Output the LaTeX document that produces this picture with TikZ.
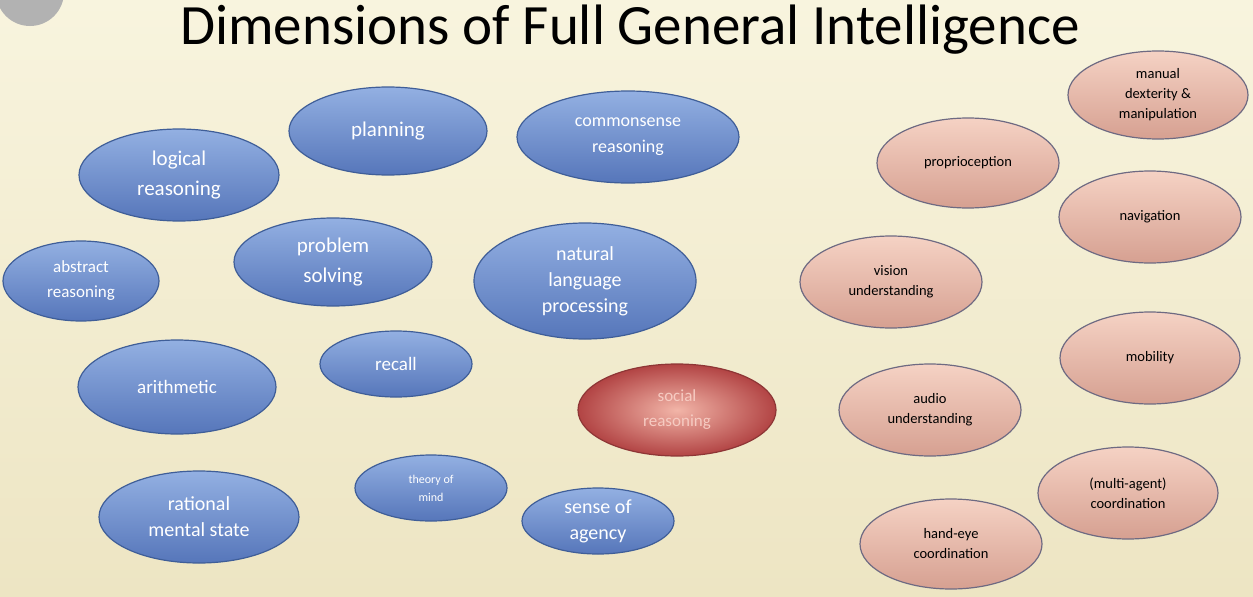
\documentclass[tikz,border=0pt]{standalone}
\usepackage{fontspec}
\setmainfont{Carlito}
\usetikzlibrary{shapes.geometric}
\definecolor{bgtop}{HTML}{F8F4DE}
\definecolor{bgbot}{HTML}{EDE5C3}
\definecolor{btop}{HTML}{93B0E2}
\definecolor{bbot}{HTML}{5676BA}
\definecolor{bline}{HTML}{3F5E98}
\definecolor{ptop}{HTML}{F5D2C4}
\definecolor{pbot}{HTML}{D6A091}
\definecolor{pline}{HTML}{6E6A82}
\definecolor{rin}{HTML}{F2B5A8}
\definecolor{rout}{HTML}{B24444}
\tikzset{
  x=1pt,y=-1pt,
  blue/.style={ellipse,draw=bline,line width=1.2pt,top color=btop,bottom color=bbot,
    text=white,align=center,inner sep=0pt,font=\fontsize{21}{30}\selectfont},
  bsmall/.style={blue,font=\fontsize{17}{25}\selectfont},
  pink/.style={ellipse,draw=pline,line width=1.2pt,top color=ptop,bottom color=pbot,
    text=black,align=center,inner sep=0pt,font=\fontsize{14.5}{20}\selectfont},
}
\begin{document}
\begin{tikzpicture}
\useasboundingbox (0,0) rectangle (1253,597);
\shade[top color=bgtop,bottom color=bgbot] (0,0) rectangle (1253,597);
\fill[gray!60] (30,-8) circle (34);
\node (title) at (630,30) {\fontsize{57}{60}\selectfont Dimensions of Full General Intelligence};
\node[blue,minimum width=198,minimum height=88] (plan) at (388,131) {planning};
\node[bsmall,font=\fontsize{18}{26}\selectfont,minimum width=222,minimum height=92] (common) at (628,137) {commonsense\\reasoning};
\node[blue,minimum width=200,minimum height=92] (logic) at (179,175) {logical\\reasoning};
\node[bsmall,minimum width=156,minimum height=80] (abstract) at (81,281) {abstract\\reasoning};
\node[blue,minimum width=198,minimum height=88] (prob) at (333,262) {problem\\solving};
\node[blue,font=\fontsize{20}{26}\selectfont,minimum width=222,minimum height=116] (nlp) at (585,281) {natural\\language\\processing};
\node[blue,font=\fontsize{19}{22}\selectfont,minimum width=198,minimum height=94] (arith) at (177,387) {arithmetic};
\node[blue,font=\fontsize{19}{22}\selectfont,minimum width=152,minimum height=66] (recall) at (396,364) {recall};
\node[ellipse,line width=1.2pt,draw=rout!80!black,inner color=rin,outer color=rout,text=rin!70!white,align=center,inner sep=0pt,
  font=\fontsize{17}{25}\selectfont,minimum width=198,minimum height=92] (social) at (677,410) {social\\reasoning};
\node[blue,font=\fontsize{20}{26}\selectfont,minimum width=200,minimum height=92] (rational) at (199,517) {rational\\mental state};
\node[blue,font=\fontsize{12}{18}\selectfont,minimum width=152,minimum height=66] (tom) at (431,488) {theory of\\mind};
\node[blue,font=\fontsize{20}{26}\selectfont,minimum width=152,minimum height=66] (agency) at (598,521) {sense of\\agency};
\node[pink,minimum width=180,minimum height=88] (manual) at (1158,95) {manual\\dexterity \&\\manipulation};
\node[pink,minimum width=182,minimum height=90] (proprio) at (968,163) {proprioception};
\node[pink,minimum width=182,minimum height=92] (nav) at (1150,217) {navigation};
\node[pink,minimum width=182,minimum height=92] (vision) at (891,282) {vision\\understanding};
\node[pink,minimum width=180,minimum height=92] (mob) at (1150,358) {mobility};
\node[pink,minimum width=182,minimum height=92] (audio) at (930,410) {audio\\understanding};
\node[pink,minimum width=180,minimum height=92] (coord) at (1128,493) {(multi-agent)\\coordination};
\node[pink,minimum width=182,minimum height=90] (hand) at (951,544) {hand-eye\\coordination};
\end{tikzpicture}
\end{document}
